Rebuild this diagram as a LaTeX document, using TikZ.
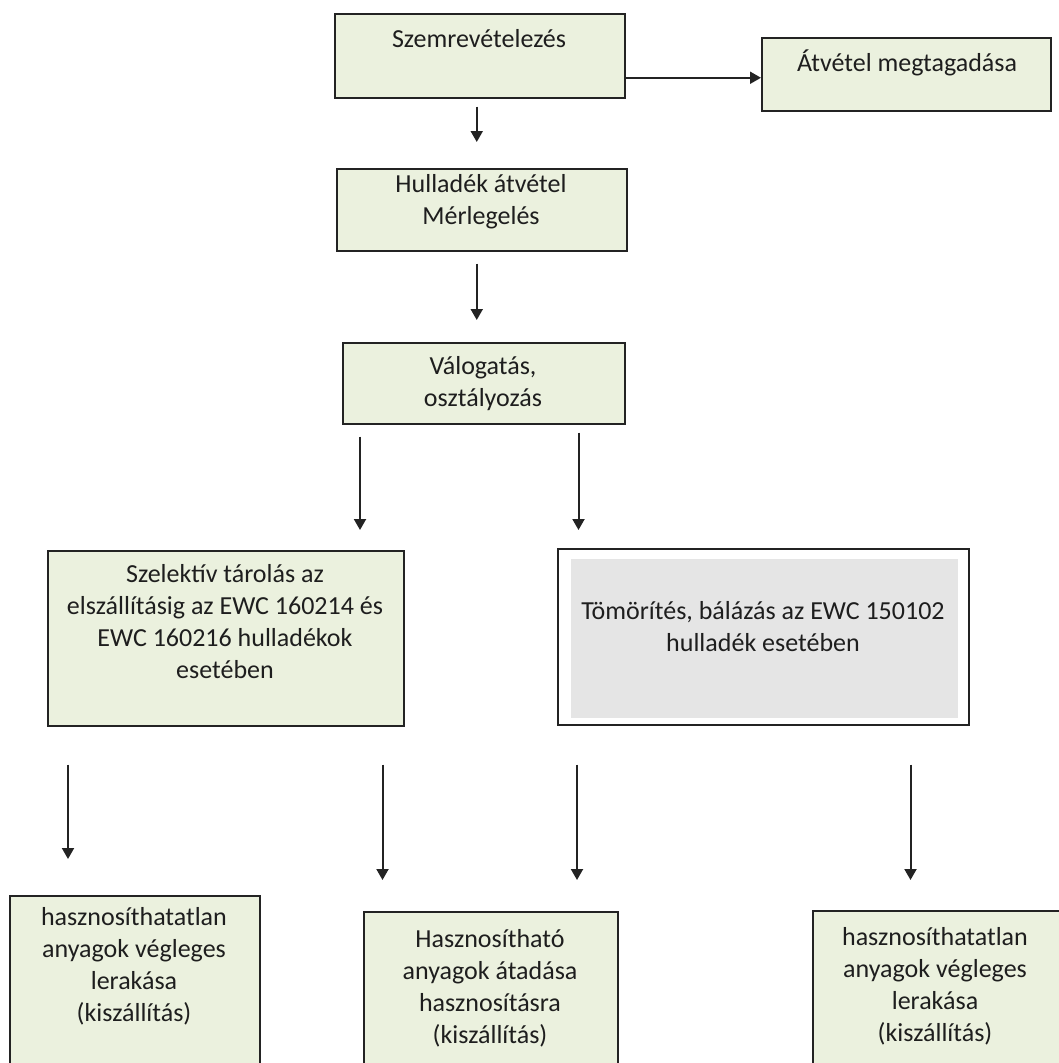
\documentclass[tikz,border=0pt]{standalone}
\usepackage{fontspec}
\setmainfont{Carlito}
\usepackage{tikz}
\usetikzlibrary{positioning}
\usetikzlibrary{calc}
\usetikzlibrary{arrows.meta}
\definecolor{boxgreen}{RGB}{235,241,222}
\definecolor{boxgrey}{RGB}{229,229,229}
\definecolor{edge}{RGB}{35,35,35}
\definecolor{ink}{RGB}{30,30,30}
\tikzset{
	box/.style={draw=edge, line width=1.5pt, fill=boxgreen, inner sep=0pt, anchor=north west},
	txt/.style={text=ink, align=center, inner sep=0pt, font=\fontsize{26}{32}\selectfont},
	arr/.style={-{Triangle[width=12pt,length=11pt]}, line width=2pt, draw=edge}
}

\begin{document}
\begin{tikzpicture}[x=1pt,y=-1pt]
	\useasboundingbox (0,0) rectangle (1059,1063);
	\clip (0,0) rectangle (1059,1063);
	\node [box, minimum width=290pt, minimum height=84pt] (szem) at (334,13) {};
	\node [box, minimum width=289pt, minimum height=73pt] (atv) at (761,37) {};
	\node [box, minimum width=290pt, minimum height=82pt] (hull) at (336,168) {};
	\node [box, minimum width=282pt, minimum height=81pt] (valo) at (342,342) {};
	\node [box, minimum width=356pt, minimum height=175pt] (szel) at (47,550) {};
	\node [box, fill=white, minimum width=411pt, minimum height=176pt] (tom) at (557,548) {};
	\node [box, draw=none, fill=boxgrey, minimum width=387pt, minimum height=159pt] (tombel) at (570,558) {};
	\node [box, minimum width=250pt, minimum height=200pt] (bal) at (9,895) {};
	\node [box, minimum width=254pt, minimum height=200pt] (kozep) at (363,911) {};
	\node [box, minimum width=250pt, minimum height=200pt] (jobb) at (812,910) {};
	\node [txt] (szemt) at (479,39) {Szemrevételezés};
	\node [txt] (atvt) at (907,63) {Átvétel megtagadása};
	\node [txt] (hullt) at (481,202) {Hulladék átvétel\\Mérlegelés};
	\node [txt] (valot) at (483,384) {Válogatás,\\osztályozás};
	\node [txt] (szelt) at (225,622) {Szelektív tárolás az\\elszállításig az EWC 160214 és\\EWC 160216 hulladékok\\esetében};
	\node [txt] (tomt) at (763,627) {Tömörítés, bálázás az EWC 150102\\hulladék esetében};
	\node [txt] (balt) at (134,966) {hasznosíthatatlan\\anyagok végleges\\lerakása\\(kiszállítás)};
	\node [txt] (kozept) at (490,988) {Hasznosítható\\anyagok átadása\\hasznosításra\\(kiszállítás)};
	\node [txt] (jobbt) at (935,986) {hasznosíthatatlan\\anyagok végleges\\lerakása\\(kiszállítás)};
	\coordinate (a0) at ($(szem.east)+(0,22)$);
	\coordinate (a1) at ($(szem.south)+(-3,0)$);
	\coordinate (a2) at ($(hull.south)+(-5,0)$);
	\coordinate (a3) at ($(valo.south west)+(18,0)$);
	\coordinate (a4) at ($(valo.south east)+(-47,0)$);
	\coordinate (a5) at ($(szel.south west)+(21,0)$);
	\coordinate (a6) at ($(szel.south east)+(-22,0)$);
	\coordinate (a7) at ($(tom.south west)+(20,0)$);
	\coordinate (a8) at ($(tom.south east)+(-59,0)$);
	\draw [arr] (a0) -- (a0 -| atv.west);
	\draw [arr, shorten <=8pt, shorten >=26pt] (a1) -- (a1 |- hull.north);
	\draw [arr, shorten <=12pt, shorten >=22pt] (a2) -- (a2 |- valo.north);
	\draw [arr, shorten <=12pt, shorten >=20pt] (a3) -- (a3 |- szel.north);
	\draw [arr, shorten <=8pt, shorten >=18pt] (a4) -- (a4 |- tom.north);
	\draw [arr, shorten <=38pt, shorten >=36pt] (a5) -- (a5 |- bal.north);
	\draw [arr, shorten <=38pt, shorten >=31pt] (a6) -- (a6 |- kozep.north);
	\draw [arr, shorten <=39pt, shorten >=31pt] (a7) -- (a7 |- kozep.north);
	\draw [arr, shorten <=39pt, shorten >=30pt] (a8) -- (a8 |- jobb.north);
\end{tikzpicture}
\end{document}
